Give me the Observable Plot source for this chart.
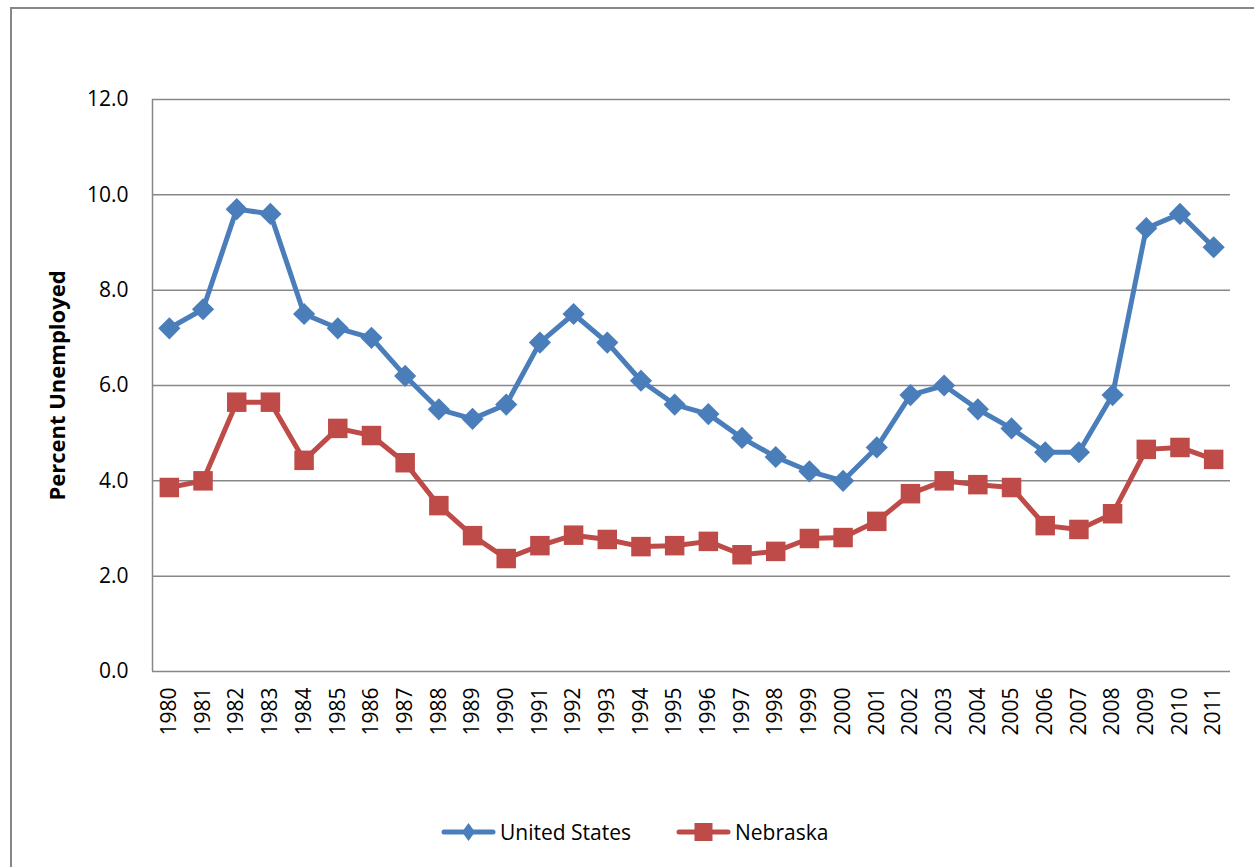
<!DOCTYPE html>
<html>
<head>
<meta charset="utf-8">
<script src="https://cdn.jsdelivr.net/npm/d3@7"></script>
<script src="https://cdn.jsdelivr.net/npm/@observablehq/plot@0.6"></script>
<style>
  html, body { margin: 0; padding: 0; background: #fff; overflow: hidden; }
  body { width: 1254px; height: 867px; position: relative; font-family: "Open Sans", "DejaVu Sans", sans-serif; }
  #frame { position: absolute; left: 10px; top: 7px; width: 1400px; height: 1000px; border: 2px solid #878787; box-sizing: border-box; }
  #chart { position: absolute; left: 0; top: 0; }
  #legend { position: absolute; left: 0; top: 812px; width: 1254px; height: 40px; font-size: 21px; color: #000; }
  .item { position: absolute; top: 0; height: 40px; display: flex; align-items: center; }
  .item svg { display: block; }
  .item span { margin-left: 3px; }
</style>
</head>
<body>
<div id="frame"></div>
<div id="chart"></div>
<div id="legend"></div>
<script>
const years = [1980,1981,1982,1983,1984,1985,1986,1987,1988,1989,1990,1991,1992,1993,1994,1995,1996,1997,1998,1999,2000,2001,2002,2003,2004,2005,2006,2007,2008,2009,2010,2011];
const usRate = [7.2,7.6,9.7,9.6,7.5,7.2,7.0,6.2,5.5,5.3,5.6,6.9,7.5,6.9,6.1,5.6,5.4,4.9,4.5,4.2,4.0,4.7,5.8,6.0,5.5,5.1,4.6,4.6,5.8,9.3,9.6,8.9];
const nebraskaRate = [3.86,4.0,5.65,5.65,4.43,5.1,4.95,4.38,3.48,2.85,2.37,2.64,2.86,2.77,2.62,2.64,2.73,2.45,2.52,2.79,2.81,3.15,3.73,4.0,3.92,3.86,3.06,2.98,3.31,4.66,4.7,4.45];
const yTicks = [0,2,4,6,8,10,12];
const seriesNames = ["United States", "Nebraska"];
const seriesColors = ["#4a7ebb", "#be4b48"];

const usData = years.map((year, i) => ({year, value: usRate[i]}));
const neData = years.map((year, i) => ({year, value: nebraskaRate[i]}));

const grid = "#878787";

const chart = Plot.plot({
  width: 1254,
  height: 760,
  marginLeft: 152,
  marginRight: 24,
  marginTop: 99,
  marginBottom: 89,
  style: { fontFamily: "'Open Sans', sans-serif", fontSize: "21px", color: "#000", background: "transparent", overflow: "visible" },
  x: { type: "linear", domain: [1979.5, 2011.5], axis: null },
  y: { domain: [0, 12], axis: null },
  marks: [
    Plot.ruleY(yTicks, { stroke: grid, strokeWidth: 1.5 }),
    Plot.ruleX([1979.5], { stroke: grid, strokeWidth: 1.5 }),
    Plot.axisY({ ticks: yTicks, tickFormat: d => d.toFixed(1), tickSize: 0, tickPadding: 24, fontSize: 21, label: null }),
    Plot.axisX({ ticks: years, tickFormat: d => String(d), tickSize: 0, tickRotate: -90, tickPadding: 16, fontSize: 21, label: null }),
    Plot.text(["Percent Unemployed"], { frameAnchor: "left", textAnchor: "middle", dx: -95, rotate: -90, fontWeight: "bold", fontSize: 22 }),
    Plot.line(usData, { x: "year", y: "value", stroke: seriesColors[0], strokeWidth: 5 }),
    Plot.dot(usData, { x: "year", y: "value", symbol: "diamond2", r: 10, fill: seriesColors[0], stroke: "none" }),
    Plot.line(neData, { x: "year", y: "value", stroke: seriesColors[1], strokeWidth: 5 }),
    Plot.dot(neData, { x: "year", y: "value", symbol: "square", r: 11, fill: seriesColors[1], stroke: "none" })
  ]
});
document.getElementById("chart").appendChild(chart);

// Legend
const legend = document.getElementById("legend");
const lefts = [441, 676];
seriesNames.forEach((name, i) => {
  const item = document.createElement("div");
  item.className = "item";
  item.style.left = lefts[i] + "px";
  const marker = i === 0
    ? `<polygon points="27.5,11 34,20 27.5,29 21,20" fill="${seriesColors[i]}"/>`
    : `<rect x="18.5" y="11" width="18" height="18" fill="${seriesColors[i]}"/>`;
  item.innerHTML = `<svg width="56" height="40"><line x1="3" y1="20" x2="52" y2="20" stroke="${seriesColors[i]}" stroke-width="5" stroke-linecap="round"/>${marker}</svg><span>${name}</span>`;
  legend.appendChild(item);
});
</script>
</body>
</html>
